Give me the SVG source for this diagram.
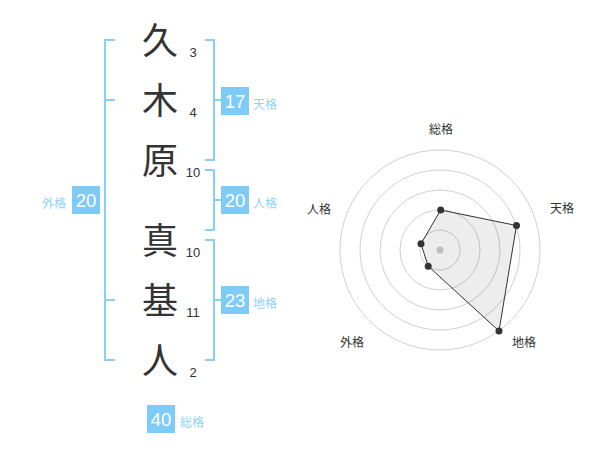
<svg xmlns="http://www.w3.org/2000/svg" width="600" height="470" viewBox="0 0 600 470">
<style>
.kj{font-family:"Noto Sans CJK JP","Noto Sans",sans-serif;font-size:36px;fill:#333;text-anchor:middle}
.st{font-family:"Liberation Sans",Arial,sans-serif;font-size:13px;fill:#333;text-anchor:middle}
.br{fill:none;stroke:#88cff7;stroke-width:2}
.bx{fill:#7fcbf7}
.bn{font-family:"Liberation Sans",Arial,sans-serif;font-size:18.5px;fill:#fff;text-anchor:middle}
.bl{font-family:"Noto Sans CJK JP","Noto Sans",sans-serif;font-size:12px;fill:#8fd3f7}
.ring{fill:none;stroke:#d0d0d0;stroke-width:1}
.rl{font-family:"Noto Sans CJK JP","Noto Sans",sans-serif;font-size:12px;fill:#333;text-anchor:middle}
.pt{fill:#333}
</style>
<rect width="600" height="470" fill="#fff"/>
<g id="connectors">
<path class="br" d="M115,40 H105 V360 H115 M105,100 H115 M105,300 H115"/>
<path class="br" d="M205,40 H214 V160 H205 M214,100 H221"/>
<path class="br" d="M205,170 H214 V230 H205 M214,200 H221"/>
<path class="br" d="M205,240 H214 V360 H205 M214,300 H221"/>
</g>
<g id="char-1"><text class="kj" x="160" y="54">久</text><text class="st" x="193" y="57">3</text></g>
<g id="char-2"><text class="kj" x="160" y="114">木</text><text class="st" x="193" y="117">4</text></g>
<g id="char-3"><text class="kj" x="160" y="174">原</text><text class="st" x="193" y="177">10</text></g>
<g id="char-4"><text class="kj" x="160" y="254">真</text><text class="st" x="193" y="257">10</text></g>
<g id="char-5"><text class="kj" x="160" y="314">基</text><text class="st" x="193" y="317">11</text></g>
<g id="char-6"><text class="kj" x="160" y="374">人</text><text class="st" x="193" y="377">2</text></g>
<g id="tenkaku"><rect class="bx" x="221" y="87" width="28" height="28"/><text class="bn" x="235" y="108">17</text><text class="bl" x="253" y="109">天格</text></g>
<g id="jinkaku"><rect class="bx" x="221" y="186" width="28" height="28"/><text class="bn" x="235" y="207">20</text><text class="bl" x="253" y="208">人格</text></g>
<g id="chikaku"><rect class="bx" x="221" y="286" width="28" height="28"/><text class="bn" x="235" y="307">23</text><text class="bl" x="253" y="308">地格</text></g>
<g id="gaikaku"><rect class="bx" x="72" y="186" width="28" height="28"/><text class="bn" x="86" y="207">20</text><text class="bl" x="66" y="208" text-anchor="end">外格</text></g>
<g id="soukaku"><rect class="bx" x="147" y="405" width="28" height="28"/><text class="bn" x="161" y="426">40</text><text class="bl" x="180" y="427">総格</text></g>
<g id="radar">
<circle class="ring" cx="440" cy="250" r="20"/>
<circle class="ring" cx="440" cy="250" r="40"/>
<circle class="ring" cx="440" cy="250" r="60"/>
<circle class="ring" cx="440" cy="250" r="80"/>
<circle class="ring" cx="440" cy="250" r="100"/>
<circle cx="440" cy="250" r="3.5" fill="#ccc"/>
<polygon points="440.7,210 516.5,225.5 499,331 428.2,266.2 421,243.8" fill="rgba(0,0,0,0.07)" stroke="#333" stroke-width="1"/>
<circle class="pt" cx="440.7" cy="210" r="3.5"/>
<circle class="pt" cx="516.5" cy="225.5" r="3.5"/>
<circle class="pt" cx="499" cy="331" r="3.5"/>
<circle class="pt" cx="428.2" cy="266.2" r="3.5"/>
<circle class="pt" cx="421" cy="243.8" r="3.5"/>
<text class="rl" x="441" y="134">総格</text>
<text class="rl" x="562" y="213">天格</text>
<text class="rl" x="524" y="347">地格</text>
<text class="rl" x="352" y="347">外格</text>
<text class="rl" x="319" y="214">人格</text>
</g>
</svg>
